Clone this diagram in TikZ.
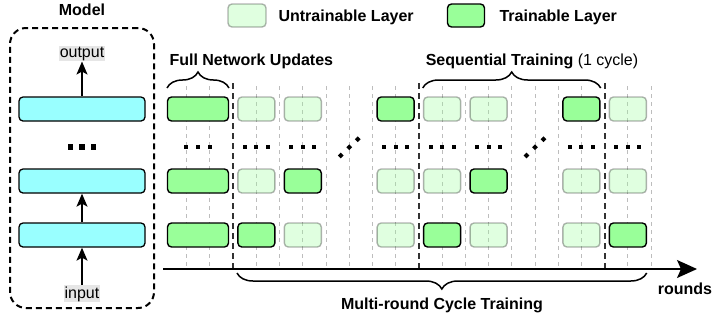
\documentclass[tikz,border=0pt]{standalone}
\usepackage{fontspec}
\setmainfont{Liberation Sans}
\usetikzlibrary{arrows.meta,decorations.pathreplacing,shapes.geometric}
\definecolor{tgreen}{HTML}{99FF99}
\definecolor{lcyan}{HTML}{99FFFF}
\definecolor{glines}{HTML}{BDBDBD}
\definecolor{dlines}{HTML}{333333}
\definecolor{hl}{HTML}{E6E6E6}
\begin{document}
\begin{tikzpicture}[x=1pt,y=-1pt,
  font=\fontsize{16}{19}\selectfont,
  trainbox/.style={draw=black, fill=tgreen, line width=1.4pt, rounded corners=4pt, minimum height=24pt, minimum width=37pt, inner sep=0pt},
  frozenbox/.style={draw=black, draw opacity=0.3, fill=tgreen, fill opacity=0.3, line width=1.4pt, rounded corners=4pt, minimum height=24pt, minimum width=37pt, inner sep=0pt},
  layerbox/.style={draw=black, fill=lcyan, line width=1.3pt, rounded corners=4pt, minimum height=24pt, minimum width=126pt, inner sep=0pt},
  modelframe/.style={draw=black, line width=2pt, dash pattern=on 6pt off 4pt, rounded corners=16pt, minimum width=144pt, minimum height=280pt, inner sep=0pt},
  gline/.style={draw=glines, line width=1pt, dash pattern=on 4pt off 4pt},
  dline/.style={draw=dlines, line width=2pt, dash pattern=on 6pt off 4pt},
  sqdot/.style={fill=black, minimum size=4pt, inner sep=0pt},
  bigdot/.style={fill=black, minimum size=5.5pt, inner sep=0pt},
  dia/.style={diamond, fill=black, minimum size=6pt, inner sep=0pt},
  flowarrow/.style={-{Stealth[length=13pt,width=11pt,inset=3pt]}, line width=1.5pt},
  bracestyle/.style={decorate, decoration={brace, amplitude=16pt}, line width=1.5pt},
  bf/.style={font=\fontsize{16}{19}\selectfont\bfseries},
  lbl/.style={fill=hl, inner sep=1pt}
]
\useasboundingbox (0,0) rectangle (717,322);

% ---------- Model ----------
\node[bf, anchor=base] (modeltitle) at (82,15) {Model};
\node[modelframe] (modelbox) at (82,168) {};
\node[layerbox] (L3) at (82,109) {};
\node[layerbox] (L2) at (82,181) {};
\node[layerbox] (L1) at (82,235) {};
\node[lbl, anchor=base] (outlbl) at (82,57) {output};
\node[lbl, anchor=base] (inlbl) at (82,298) {input};
\draw[flowarrow] (L3.north) -- (outlbl.south);
\draw[flowarrow] (L1.north) -- (L2.south);
\draw[flowarrow] (inlbl.north) -- (L1.south);
\foreach \dx [count=\i] in {-11.5,0,11.5}
  \node[bigdot] (mdot\i) at (82+\dx,147) {};

% ---------- Legend ----------
\node[frozenbox, minimum width=38pt, minimum height=23pt] (legU) at (247,15.5) {};
\node[bf, anchor=base west] (legUt) at (275,21.5) {Untrainable Layer};
\node[trainbox, minimum width=37pt, minimum height=23pt] (legT) at (466,15.5) {};
\node[bf, anchor=base west] (legTt) at (496,21.5) {Trainable Layer};

% ---------- Grid lines ----------
\foreach \k in {0,1,3,4,5,6,7,8,9,11,12,13,14,15,16,17,19,20}{
  \pgfmathsetmacro\xx{186.7+23.22*\k}
  \coordinate (gt\k) at (\xx,86);
  \coordinate (gb\k) at (\xx,269);
  \draw[gline] (gt\k) -- (gb\k);
}
\foreach \k in {2,10,18}{
  \pgfmathsetmacro\xx{186.7+23.22*\k}
  \coordinate (dt\k) at (\xx,83);
  \coordinate (db\k) at (\xx,269);
  \draw[dline] (dt\k) -- (db\k);
}

% ---------- Full network boxes ----------
\foreach \y [count=\i] in {109,181,235}
  \node[trainbox, minimum width=61pt] (full\i) at (198,\y) {};

% ---------- Per-round boxes ----------
\foreach \k/\a/\b/\c in {3/f/f/t,5/f/t/f,9/t/f/f,11/f/f/t,13/f/t/f,17/t/f/f,19/f/f/t}{
  \pgfmathsetmacro\xx{186.7+23.22*\k}
  \foreach \s/\y/\r in {\a/109/1,\b/181/2,\c/235/3}{
    \if t\s
      \node[trainbox] (b\k-\r) at (\xx,\y) {};
    \else
      \node[frozenbox] (b\k-\r) at (\xx,\y) {};
    \fi
  }
}

% ---------- Dots ----------
\foreach \dx [count=\i] in {-11.6,0,11.6}
  \node[sqdot] (fdot\i) at (198+\dx,147) {};
\foreach \k in {3,5,9,11,13,17,19}{
  \pgfmathsetmacro\xx{186.7+23.22*\k}
  \foreach \dx [count=\i] in {-11.6,0,11.6}
    \node[sqdot] (dot\k-\i) at (\xx+\dx,147) {};
}
\foreach \k in {7,15}{
  \pgfmathsetmacro\xx{186.7+23.22*\k}
  \node[dia] (dg\k-1) at (\xx-8.5,155.5) {};
  \node[dia] (dg\k-2) at (\xx,147.3) {};
  \node[dia] (dg\k-3) at (\xx+8.5,139.2) {};
}

% ---------- Braces and labels ----------
\coordinate (fbl) at (167,88);
\coordinate (fbr) at (229,88);
\draw[bracestyle] (fbl) -- (fbr);
\node[bf, anchor=base west] (fulllbl) at (166,65) {Full Network Updates};

\coordinate (sbl) at (422.7,88);
\coordinate (sbr) at (600.7,88);
\draw[bracestyle] (sbl) -- (sbr);
\node[anchor=base] (seqlbl) at (532,65) {\textbf{Sequential Training} (1 cycle)};

\coordinate (mbl) at (237,273);
\coordinate (mbr) at (646.7,273);
\draw[bracestyle, decoration={brace, amplitude=16pt, mirror}] (mbl) -- (mbr);
\node[bf, anchor=base] (multilbl) at (442,309) {Multi-round Cycle Training};

% ---------- Axis ----------
\coordinate (axs) at (163,269);
\coordinate (axe) at (697,269);
\draw[line width=1.6pt, -{Stealth[length=20pt,width=18pt,inset=4pt]}] (axs) -- (axe);
\node[bf, anchor=base] (roundslbl) at (685,294) {rounds};
\end{tikzpicture}
\end{document}
